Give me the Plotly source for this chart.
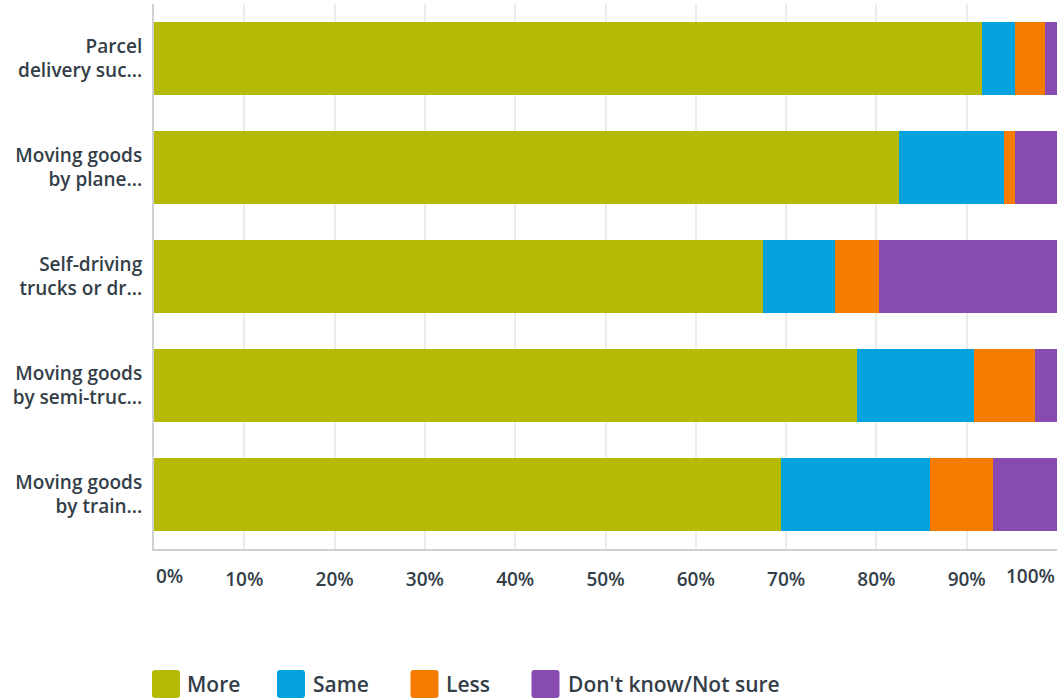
import plotly.graph_objects as go

# categories & series (percent of respondents)
categories = [
    'Parcel<br>delivery suc...',
    'Moving goods<br>by plane...',
    'Self-driving<br>trucks or dr...',
    'Moving goods<br>by semi-truc...',
    'Moving goods<br>by train...',
]
series_names = ['More', 'Same', 'Less', "Don't know/Not sure"]
more = [91.7, 82.5, 67.4, 77.8, 69.4]
same = [3.6, 11.6, 8.0, 13.0, 16.5]
less = [3.4, 1.2, 4.9, 6.8, 7.0]
dont_know = [1.3, 4.7, 19.7, 2.4, 7.1]
tick_vals = [0, 10, 20, 30, 40, 50, 60, 70, 80, 90, 100]
tick_text = ['0%', '10%', '20%', '30%', '40%', '50%', '60%', '70%', '80%', '90%', '100%']

colors = ['#b5bb05', '#05a3de', '#f57c00', '#874bb2']
text_col = '#333e48'
font_fam = 'Open Sans'

fig = go.Figure()
for name, vals, col in zip(series_names, [more, same, less, dont_know], colors):
    fig.add_trace(go.Bar(y = categories, x = vals, name = name, orientation = 'h',
                         marker = dict(color = col, line = dict(width = 0)),
                         showlegend = False))

# x tick labels: inner ones on the axis, end ones clamped inside the plot
fig.update_xaxes(range = [0, 100], tickvals = tick_vals[1:-1], ticktext = tick_text[1:-1],
                 showgrid = True, gridcolor = '#ececec', gridwidth = 1.5,
                 showline = True, linecolor = '#d0d0d0', linewidth = 2,
                 zeroline = False, ticks = '', ticklabelstandoff = 12,
                 tickfont = dict(family = font_fam, size = 19, color = text_col, weight = 600))
fig.update_yaxes(autorange = 'reversed', showline = True, linecolor = '#d0d0d0', linewidth = 2,
                 showgrid = False, ticks = '', ticklabelstandoff = 6,
                 tickfont = dict(family = font_fam, size = 19, color = text_col, weight = 600))

for val, txt, anc in [(tick_vals[0], tick_text[0], 'left'), (tick_vals[-1], tick_text[-1], 'right')]:
    fig.add_annotation(x = val, xref = 'x', y = -0.05, yref = 'paper', text = txt,
                       xanchor = anc, yanchor = 'middle', showarrow = False,
                       font = dict(family = font_fam, size = 19, color = text_col, weight = 600))

# legend drawn by hand (big rounded squares)
leg_sq_x = [166, 291, 424.5, 545.5]
leg_txt_x = [185, 311, 444, 566]
leg_y = (549 - 684) / 545
sq = 'M -11,14 L 11,14 Q 14,14 14,11 L 14,-11 Q 14,-14 11,-14 L -11,-14 Q -14,-14 -14,-11 L -14,11 Q -14,14 -11,14 Z'
for name, col, sx, tx in zip(series_names, colors, leg_sq_x, leg_txt_x):
    fig.add_shape(type = 'path', path = sq, xref = 'paper', yref = 'paper',
                  xsizemode = 'pixel', ysizemode = 'pixel',
                  xanchor = (sx - 154) / 903, yanchor = leg_y,
                  fillcolor = col, line = dict(width = 0))
    fig.add_annotation(x = (tx - 154) / 903, xref = 'paper', y = leg_y, yref = 'paper',
                       text = name, xanchor = 'left', yanchor = 'middle', showarrow = False,
                       font = dict(family = font_fam, size = 21, color = text_col, weight = 600))

fig.update_layout(barmode = 'stack', bargap = 0.33, width = 1058, height = 700,
                  margin = dict(l = 154, r = 1, t = 4, b = 151),
                  plot_bgcolor = 'white', paper_bgcolor = 'white',
                  font = dict(family = font_fam, color = text_col))

# page body margin off so the figure fills the window
fig.write_html("out.html", config = {'displayModeBar': False},
               post_script = "document.body.style.margin = '0';")
